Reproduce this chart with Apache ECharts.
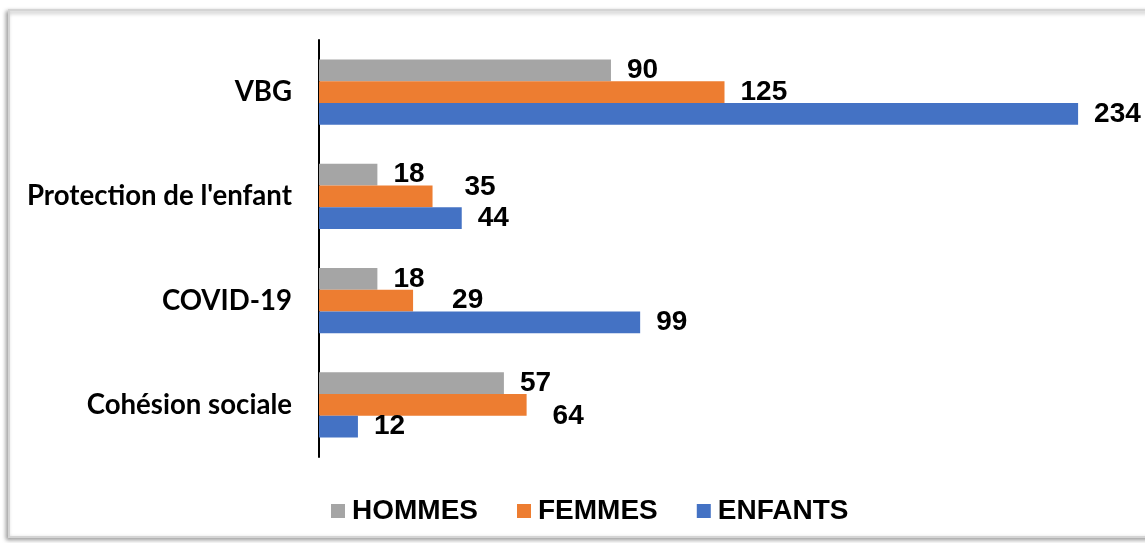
<!DOCTYPE html>
<html>
<head>
<meta charset="utf-8">
<script src="https://cdn.jsdelivr.net/npm/echarts@6/dist/echarts.min.js"></script>
<style>
html,body{margin:0;padding:0;background:#fff;}
#chart{width:1145px;height:543px;}
</style>
</head>
<body>
<div id="chart"></div>
<script>
const categories = ['VBG', "Protection de l'enfant", 'COVID-19', 'Cohésion sociale'];
const seriesNames = ['HOMMES', 'FEMMES', 'ENFANTS'];
const hommes = [90, 18, 18, 57];
const femmes = [125, 35, 29, 64];
const enfants = [234, 44, 99, 12];

const colors = ['#a5a5a5', '#ed7d31', '#4472c4'];
// label offsets (layout only) per series, per category index
const labelOffsets = [
  {},
  {1: [16, -9], 2: [23, 0], 3: [10, 11]},
  {}
];

function buildData(values, si) {
  return values.map((v, i) => {
    const off = labelOffsets[si][i];
    return off ? {value: v, label: {offset: off}} : v;
  });
}

const chart = echarts.init(document.getElementById('chart'));
const allValues = [hommes, femmes, enfants];
chart.setOption({
  animation: false,
  backgroundColor: '#fff',
  graphic: [{
    type: 'rect',
    z: -10,
    shape: {x: 9, y: 10, width: 1150, height: 527},
    style: {
      fill: '#fff', stroke: '#d4d4d4', lineWidth: 2,
      shadowColor: 'rgba(0,0,0,0.35)', shadowBlur: 4, shadowOffsetX: -2, shadowOffsetY: 2
    }
  }],
  grid: {left: 319, right: 15, top: 40, bottom: 86},
  legend: {
    data: seriesNames,
    left: 326,
    top: 492,
    icon: 'rect',
    itemWidth: 14,
    itemHeight: 14,
    itemGap: 39,
    textStyle: {fontFamily: 'Liberation Sans', fontWeight: 'bold', fontSize: 28, color: '#000', padding: [0, 0, 0, 2]}
  },
  xAxis: {type: 'value', min: 0, max: 250, show: false, splitLine: {show: false}},
  yAxis: {
    type: 'category',
    inverse: true,
    data: categories,
    axisLine: {show: true, lineStyle: {color: '#000', width: 2}},
    axisTick: {show: false},
    axisLabel: {fontFamily: 'Lato', fontWeight: 'bold', fontSize: 27.6, color: '#000', margin: 27}
  },
  series: seriesNames.map((name, si) => ({
    name: name,
    type: 'bar',
    data: buildData(allValues[si], si),
    barGap: 0,
    barCategoryGap: '37.5%',
    itemStyle: {color: colors[si]},
    label: {
      show: true, position: 'right', distance: 16,
      fontFamily: 'Liberation Sans', fontWeight: 'bold', fontSize: 28, color: '#000'
    }
  }))
});
</script>
</body>
</html>
